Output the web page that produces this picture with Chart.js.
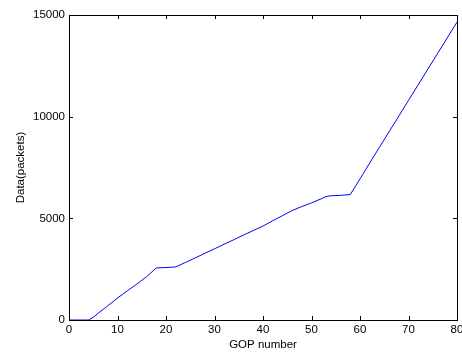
<!DOCTYPE html>
<html>
<head>
<meta charset="utf-8">
<script src="https://cdn.jsdelivr.net/npm/chart.js@4/dist/chart.umd.min.js"></script>
<style>
  html, body { margin: 0; padding: 0; background: #fff; }
  #wrap { width: 462px; height: 355px; }
</style>
</head>
<body>
<div id="wrap"><canvas id="c" width="462" height="355"></canvas></div>
<script>
// GOP number vs cumulative data (packets)
const gop = [0, 2, 4, 5, 6, 8, 10, 12, 14, 16, 18, 20, 22, 24, 26, 28, 30, 32, 34, 36, 38, 40,
  42, 44, 46, 48, 50, 52, 53, 54, 56, 58, 60, 62, 64, 66, 68, 70, 72, 74, 76, 78, 80];
const packets = [0, 0, 0, 130, 330, 700, 1080, 1430, 1770, 2130, 2560, 2580, 2610, 2830, 3050, 3280, 3500, 3730, 3950, 4180, 4400, 4620,
  4880, 5130, 5380, 5580, 5760, 5960, 6070, 6110, 6130, 6170, 6940, 7720, 8490, 9260, 10030, 10800, 11570, 12340, 13110, 13880, 14650];
const xTicks = [0, 10, 20, 30, 40, 50, 60, 70, 80];
const yTicks = [0, 5000, 10000, 15000];

const font = { family: 'Liberation Sans, Arial, Helvetica, sans-serif', size: 11.5 };

// MATLAB style box with inward tick marks on all four sides
const boxPlugin = {
  id: 'box',
  afterDraw(chart) {
    const { ctx, chartArea: a, scales } = chart;
    const len = 4;
    ctx.save();
    ctx.strokeStyle = '#000';
    ctx.lineWidth = 1;
    ctx.beginPath();
    xTicks.forEach(v => {
      const x = Math.round(scales.x.getPixelForValue(v)) + 0.5;
      ctx.moveTo(x, a.bottom); ctx.lineTo(x, a.bottom - len);
      ctx.moveTo(x, a.top); ctx.lineTo(x, a.top + len);
    });
    yTicks.forEach(v => {
      const y = Math.round(scales.y.getPixelForValue(v)) + 0.5;
      ctx.moveTo(a.left, y); ctx.lineTo(a.left + len, y);
      ctx.moveTo(a.right, y); ctx.lineTo(a.right - len, y);
    });
    ctx.stroke();
    ctx.strokeRect(a.left + 0.5, a.top + 0.5, a.right - a.left, a.bottom - a.top);
    ctx.restore();
  }
};

new Chart(document.getElementById('c'), {
  type: 'line',
  data: {
    datasets: [{
      data: gop.map((g, i) => ({ x: g, y: packets[i] })),
      borderColor: '#0000ff',
      borderWidth: 1,
      pointRadius: 0,
      tension: 0,
      fill: false
    }]
  },
  options: {
    responsive: false,
    animation: false,
    layout: { padding: { left: 0, top: 15, right: 5, bottom: 0 } },
    plugins: { legend: { display: false }, tooltip: { enabled: false } },
    scales: {
      x: {
        type: 'linear',
        min: 0, max: 80,
        afterBuildTicks: s => { s.ticks = xTicks.map(v => ({ value: v })); },
        afterFit: s => { s.height = 35; s.paddingLeft = 0; s.paddingRight = 0; },
        grid: { display: false, drawTicks: false },
        border: { display: false },
        ticks: { color: '#000', font, padding: 3, maxRotation: 0, callback: v => String(v) },
        title: { display: true, text: 'GOP number', color: '#000', font, padding: { top: 0, bottom: 3 } }
      },
      y: {
        min: 0, max: 15000,
        afterBuildTicks: s => { s.ticks = yTicks.map(v => ({ value: v })); },
        afterFit: s => { s.width = 69; s.paddingTop = 0; s.paddingBottom = 0; },
        grid: { display: false, drawTicks: false },
        border: { display: false },
        ticks: { color: '#000', font, padding: 4, callback: v => String(v) },
        title: { display: true, text: 'Data(packets)', color: '#000', font, padding: { top: 14, bottom: 0 } }
      }
    }
  },
  plugins: [boxPlugin]
});
</script>
</body>
</html>
